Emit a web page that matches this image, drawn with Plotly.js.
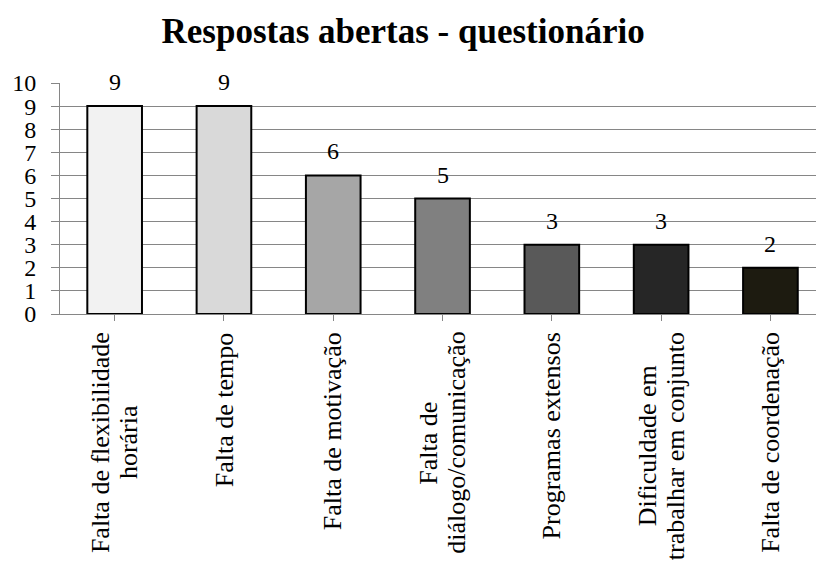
<!DOCTYPE html>
<html>
<head>
<meta charset="utf-8">
<script src="https://cdn.plot.ly/plotly-3.0.1.min.js"></script>
<style>html,body{margin:0;padding:0;background:#fff;overflow:hidden}#chart{width:816px;height:561px}</style>
</head>
<body>
<div id="chart"></div>
<script>
const categories = ["Falta de flexibilidade<br>horária", "Falta de tempo", "Falta de motivação", "Falta de<br>diálogo/comunicação", "Programas extensos", "Dificuldade em<br>trabalhar em conjunto", "Falta de coordenação"];
const values = [9, 9, 6, 5, 3, 3, 2];
const barColors = ["#f2f2f2", "#d9d9d9", "#a6a6a6", "#808080", "#595959", "#262626", "#1d1b10"];
const yTicks = [0,1,2,3,4,5,6,7,8,9,10];

const serif = "Liberation Serif";
const labelSize = 26;
const lineGap = 28;
const idx = categories.map((c, i) => i);

const ctx = document.createElement("canvas").getContext("2d");
ctx.font = labelSize + "px 'Liberation Serif'";

const trace = {
  type: "bar",
  x: idx,
  y: values,
  width: 0.5,
  marker: {color: barColors, line: {color: "#000", width: 2}},
  hoverinfo: "none"
};

const valueAnn = idx.map(i => ({
  x: i, y: values[i], xref: "x", yref: "y",
  text: String(values[i]), showarrow: false,
  yanchor: "bottom", yshift: 9,
  font: {family: serif, size: 24, color: "#000"}
}));

const labelAnn = [];
idx.forEach(i => {
  const lines = categories[i].split("<br>");
  const maxW = Math.max(...lines.map(l => ctx.measureText(l).width));
  lines.forEach((line, j) => {
    labelAnn.push({
      x: i, y: 0, xref: "x", yref: "paper",
      text: line, showarrow: false,
      textangle: -90,
      xanchor: "center", yanchor: "middle",
      xshift: (j - (lines.length - 1) / 2) * lineGap,
      yshift: -(18 + maxW / 2),
      font: {family: serif, size: labelSize, color: "#000"}
    });
  });
});

const layout = {
  width: 816, height: 561,
  margin: {l: 60, r: 0, t: 83, b: 247},
  paper_bgcolor: "#fff", plot_bgcolor: "#fff",
  showlegend: false,
  font: {family: serif, color: "#000"},
  title: {
    text: "<b>Respostas abertas - questionário</b>",
    font: {family: serif, size: 35, color: "#000"},
    xref: "container", x: 0.494, xanchor: "center",
    yref: "container", y: 1 - 31/561, yanchor: "middle"
  },
  xaxis: {
    range: [-0.5, 6.417],
    tickmode: "array", tickvals: idx, ticktext: idx.map(() => ""),
    tickson: "boundaries", ticks: "outside", ticklen: 6, tickcolor: "#868686", tickwidth: 1,
    showline: true, linecolor: "#868686", linewidth: 1,
    showgrid: false, zeroline: false, fixedrange: true
  },
  yaxis: {
    range: [0, 10],
    tickmode: "array", tickvals: yTicks, ticktext: yTicks.map(String),
    ticks: "outside", ticklen: 8, tickcolor: "#868686", tickwidth: 1,
    ticklabelstandoff: 10,
    showline: true, linecolor: "#868686", linewidth: 1,
    showgrid: true, gridcolor: "#868686", gridwidth: 1,
    zeroline: false,
    tickfont: {family: serif, size: 24, color: "#000"},
    fixedrange: true
  },
  annotations: valueAnn.concat(labelAnn)
};

Plotly.newPlot("chart", [trace], layout, {displayModeBar: false, staticPlot: true});
</script>
</body>
</html>
